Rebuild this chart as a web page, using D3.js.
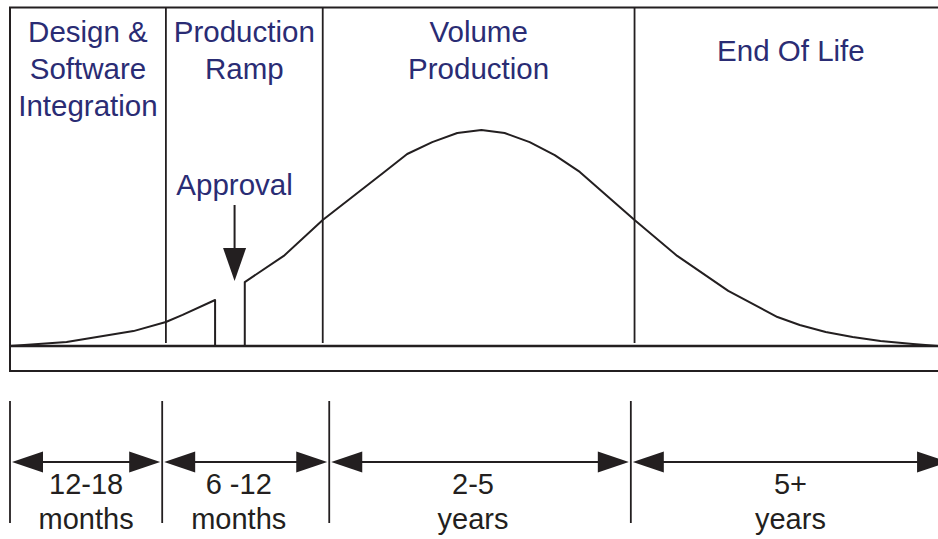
<!DOCTYPE html>
<html>
<head>
<meta charset="utf-8">
<script src="https://cdn.jsdelivr.net/npm/d3@7"></script>
<style>
  body { margin: 0; background: #fff; overflow: hidden; }
  svg { display: block; font-family: "Liberation Sans", Arial, Helvetica, sans-serif; }
</style>
</head>
<body>
<svg id="lifecycle" width="938" height="539"></svg>
<script>
// phases of the product life (top boxes), x in timeline units 0..100
var phaseNames = [["Design &", "Software", "Integration"], ["Production", "Ramp"], ["Volume", "Production"], ["End Of Life"]];
var phaseBounds = [0, 16.8, 33.7, 67.3, 101];

// volume curve, before and after the approval gap
var rampX = [0, 6.1, 13.3, 16.8, 18.6, 22.1];
var rampY = [0, 1.9, 6.9, 11.1, 14.4, 21.3];
var volumeX = [25.3, 29.5, 33.7, 40.2, 42.8, 45.5, 48.2, 50.8, 53.3, 56.0, 58.7, 61.4, 67.3, 71.9, 77.4, 82.7, 85.1, 87.9, 90.8, 93.8, 97.3, 100];
var volumeY = [29.6, 41.7, 58.3, 80.1, 88.9, 94.4, 98.6, 100, 98.6, 94.4, 88.4, 80.6, 58.3, 41.7, 25.5, 13.4, 9.7, 6.5, 4.2, 2.3, 0.9, 0];
var approvalAt = 24.2;

// durations along the bottom
var durationBounds = [0, 16.4, 34.4, 66.9, 101.3];
var durationNames = [["12-18", "months"], ["6 -12", "months"], ["2-5", "years"], ["5+", "years"]];

var ink = "#231f20",
    navy = "#2a2c74";

var svg = d3.select("#lifecycle");

var x = d3.scaleLinear().domain([0, 100]).range([10, 938]);
var y = d3.scaleLinear().domain([0, 100]).range([346, 130]);

var boxTop = 7.5, boxBottom = 371, base = y(0);

// outer box
svg.append("rect")
    .attr("x", x(0)).attr("y", boxTop)
    .attr("width", x(phaseBounds[4]) - x(0) + 10)
    .attr("height", boxBottom - boxTop)
    .attr("fill", "none").attr("stroke", ink).attr("stroke-width", 2);

// baseline
svg.append("line")
    .attr("x1", x(0)).attr("x2", x(phaseBounds[4]) + 10)
    .attr("y1", base).attr("y2", base)
    .attr("stroke", ink).attr("stroke-width", 2.4);

// phase dividers
svg.selectAll(".divider")
    .data(phaseBounds.slice(1, 4))
  .enter().append("line")
    .attr("class", "divider")
    .attr("x1", function(d) { return x(d); })
    .attr("x2", function(d) { return x(d); })
    .attr("y1", boxTop).attr("y2", base - 3)
    .attr("stroke", ink).attr("stroke-width", 1.8);

// phase titles
phaseNames.forEach(function(lines, i) {
  var cx = x((phaseBounds[i] + phaseBounds[i + 1]) / 2);
  var y0 = lines.length === 1 ? 61 : 42;
  var t = svg.append("text")
      .attr("text-anchor", "middle")
      .attr("font-size", 29.5)
      .attr("fill", navy);
  lines.forEach(function(s, j) {
    t.append("tspan").attr("x", cx).attr("y", y0 + j * 37).text(s);
  });
});

// volume curve
var line = d3.line()
    .x(function(d) { return x(d[0]); })
    .y(function(d) { return y(d[1]); });

var ramp = d3.zip(rampX, rampY);
ramp.push([rampX[rampX.length - 1], 0]);
var volume = d3.zip(volumeX, volumeY);
volume.unshift([volumeX[0], 0]);

[ramp, volume].forEach(function(pts) {
  svg.append("path")
      .datum(pts)
      .attr("d", line)
      .attr("fill", "none")
      .attr("stroke", ink)
      .attr("stroke-width", 2)
      .attr("stroke-linejoin", "round");
});

// approval marker
var ax = x(approvalAt);
svg.append("text")
    .attr("x", ax).attr("y", 195)
    .attr("text-anchor", "middle")
    .attr("font-size", 29.5)
    .attr("fill", navy)
    .text("Approval");
svg.append("line")
    .attr("x1", ax).attr("x2", ax)
    .attr("y1", 205).attr("y2", 250)
    .attr("stroke", ink).attr("stroke-width", 2);
svg.append("path")
    .attr("d", "M" + (ax - 11.5) + ",248L" + (ax + 11.5) + ",248L" + ax + ",281Z")
    .attr("fill", ink);

// duration ticks
var arrowY = 462;
svg.selectAll(".tick")
    .data(durationBounds)
  .enter().append("line")
    .attr("class", "tick")
    .attr("x1", function(d) { return x(d); })
    .attr("x2", function(d) { return x(d); })
    .attr("y1", 401).attr("y2", 523)
    .attr("stroke", ink).attr("stroke-width", 1.8);

// double arrows + labels
durationNames.forEach(function(lines, i) {
  var x0 = x(durationBounds[i]) + 2,
      x1 = x(durationBounds[i + 1]) - 2,
      len = 31, hw = 10.5;
  svg.append("line")
      .attr("x1", x0 + 10).attr("x2", x1 - 10)
      .attr("y1", arrowY).attr("y2", arrowY)
      .attr("stroke", ink).attr("stroke-width", 2);
  svg.append("path")
      .attr("d", "M" + x0 + "," + arrowY + "L" + (x0 + len) + "," + (arrowY - hw) + "L" + (x0 + len) + "," + (arrowY + hw) + "Z")
      .attr("fill", ink);
  svg.append("path")
      .attr("d", "M" + x1 + "," + arrowY + "L" + (x1 - len) + "," + (arrowY - hw) + "L" + (x1 - len) + "," + (arrowY + hw) + "Z")
      .attr("fill", ink);

  // labels sit a little left of the span centre in the original
  var cx = x((durationBounds[i] + durationBounds[i + 1]) / 2) - (i === 1 || i === 2 ? 7 : 0);
  var t = svg.append("text")
      .attr("text-anchor", "middle")
      .attr("font-size", 29)
      .attr("fill", ink);
  lines.forEach(function(s, j) {
    t.append("tspan").attr("x", cx).attr("y", 494 + j * 35).text(s);
  });
});
</script>
</body>
</html>
